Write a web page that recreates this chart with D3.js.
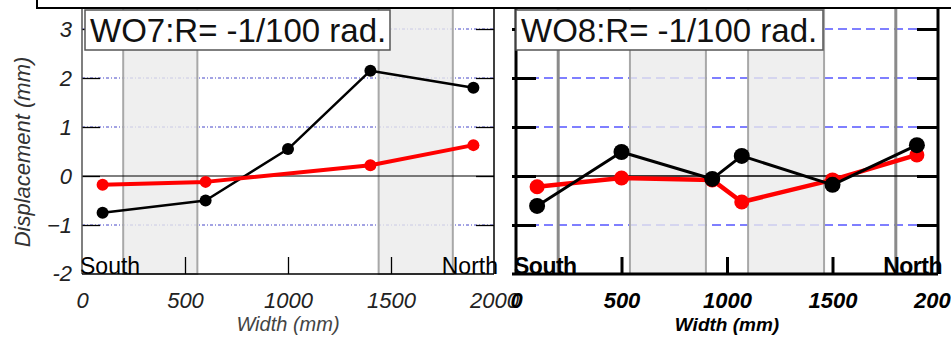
<!DOCTYPE html>
<html>
<head>
<meta charset="utf-8">
<script src="https://cdn.jsdelivr.net/npm/d3@7"></script>
<style>
  body { margin: 0; background: #fff; }
  svg { display: block; }
</style>
</head>
<body>
<div id="chart"></div>
<script>
// ---- data ----
const xTicks = [0, 500, 1000, 1500, 2000]
const yTicks = [-2, -1, 0, 1, 2, 3]
const gridValues = [-1, 1, 2, 3]

// WO7 panel
const wo7Title = 'WO7:R= -1/100 rad.'
const wo7BlackWidth = [100, 600, 1000, 1400, 1900]
const wo7Black = [-0.75, -0.5, 0.55, 2.15, 1.8]
const wo7RedWidth = [100, 600, 1400, 1900]
const wo7Red = [-0.18, -0.12, 0.22, 0.63]
const wo7Bands = [[200, 560], [1440, 1800]]
const wo7Lines = []

// WO8 panel
const wo8Title = 'WO8:R= -1/100 rad.'
const wo8BlackWidth = [100, 500, 930, 1070, 1500, 1900]
const wo8Black = [-0.61, 0.49, -0.06, 0.41, -0.18, 0.63]
const wo8RedWidth = [100, 500, 930, 1070, 1500, 1900]
const wo8Red = [-0.22, -0.04, -0.08, -0.53, -0.08, 0.43]
const wo8Bands = [[540, 900], [1100, 1460]]
const wo8Lines = [200, 1800]

const W = 951, H = 339
const FONT = '"Liberation Sans", Arial, sans-serif'

const svg = d3.select('#chart').append('svg')
  .attr('width', W).attr('height', H)
  .attr('viewBox', `0 0 ${W} ${H}`)

svg.append('rect').attr('width', W).attr('height', H).attr('fill', '#fff')

function drawPanel(p) {
  const x = d3.scaleLinear().domain([0, 2000]).range(p.xRange)
  const y = d3.scaleLinear().domain([-2, 3]).range([274, 29])
  const top = 8
  const bottom = y(-2)
  const g = svg.append('g')

  // gridlines
  g.append('g').selectAll('line').data(gridValues).join('line')
    .attr('x1', p.xRange[0]).attr('x2', p.xRange[1])
    .attr('y1', d => y(d)).attr('y2', d => y(d))
    .attr('stroke', p.gridColor).attr('stroke-width', p.gridWidth)
    .attr('stroke-dasharray', p.gridDash)

  // shaded bands
  g.append('g').selectAll('rect').data(p.bands).join('rect')
    .attr('x', d => x(d[0])).attr('width', d => x(d[1]) - x(d[0]))
    .attr('y', top).attr('height', bottom - top)
    .attr('fill', '#ebebeb').attr('fill-opacity', 0.8)
    .attr('stroke', '#a8a8a8').attr('stroke-width', 2)

  // grey vertical markers
  g.append('g').selectAll('line').data(p.lines).join('line')
    .attr('x1', d => x(d)).attr('x2', d => x(d))
    .attr('y1', top).attr('y2', bottom)
    .attr('stroke', '#8a8a8a').attr('stroke-width', 3)

  // zero line
  g.append('line')
    .attr('x1', p.xRange[0]).attr('x2', p.xRange[1])
    .attr('y1', y(0)).attr('y2', y(0))
    .attr('stroke', '#000').attr('stroke-width', p.bold ? 1.5 : 1)

  // series
  const line = d3.line().x(d => x(d[0])).y(d => y(d[1]))
  p.series.forEach(s => {
    const pts = s.widths.map((w, i) => [w, s.values[i]])
    g.append('path').datum(pts)
      .attr('d', line).attr('fill', 'none')
      .attr('stroke', s.color).attr('stroke-width', s.width)
      .attr('stroke-linejoin', 'round')
    g.append('g').selectAll('circle').data(pts).join('circle')
      .attr('cx', d => x(d[0])).attr('cy', d => y(d[1]))
      .attr('r', s.r).attr('fill', s.color)
  })

  // axes
  const sw = p.bold ? 3 : 1.3
  const styleAxis = sel => {
    sel.select('.domain').remove()
    sel.selectAll('.tick line').attr('stroke', '#000').attr('stroke-width', sw)
    sel.selectAll('.tick text')
      .attr('fill', p.bold ? '#000' : '#222')
      .attr('font-family', FONT).attr('font-size', '22px')
      .attr('font-style', 'italic')
      .attr('font-weight', p.bold ? 'bold' : 'normal')
  }

  g.append('g').attr('transform', `translate(0,${bottom})`)
    .call(d3.axisBottom(x).tickValues(xTicks).tickFormat(d3.format('d'))
      .tickSizeInner(-17).tickSizeOuter(0).tickPadding(18))
    .call(styleAxis)
    .call(a => a.selectAll('.tick').filter(d => d === 0 || d === 2000).select('line').remove())

  g.append('g').attr('transform', `translate(${p.xRange[0]},0)`)
    .call(d3.axisLeft(y).tickValues(yTicks.filter(v => v > -2)).tickSizeInner(p.bold ? -20 : -18)
      .tickSizeOuter(0).tickPadding(10).tickFormat(p.yLabels ? d3.format('d') : () => ''))
    .call(styleAxis)
    .call(a => { if (p.bold) a.selectAll('.tick line').attr('x1', -4) })

  if (p.yLabels) {
    g.append('text')
      .attr('x', p.xRange[0] - 10).attr('y', y(-2)).attr('dy', '0.32em')
      .attr('text-anchor', 'end')
      .attr('fill', '#222').attr('font-family', FONT).attr('font-size', '22px')
      .attr('font-style', 'italic').text('-2')
  }

  g.append('g').attr('transform', `translate(${p.xRange[1]},0)`)
    .call(d3.axisRight(y).tickValues(yTicks.filter(v => v > -2)).tickSizeInner(p.bold ? -21 : -18)
      .tickSizeOuter(0).tickFormat(() => ''))
    .call(styleAxis)

  // frame
  g.append('line')
    .attr('x1', p.xRange[0]).attr('x2', p.xRange[0])
    .attr('y1', top).attr('y2', bottom)
    .attr('stroke', p.bold ? '#000' : '#555').attr('stroke-width', p.bold ? 3 : 1.5)
  g.append('line')
    .attr('x1', p.xRange[1]).attr('x2', p.xRange[1])
    .attr('y1', top).attr('y2', bottom)
    .attr('stroke', '#000').attr('stroke-width', p.bold ? 3 : 1.5)
  g.append('line')
    .attr('x1', p.xRange[0] - (p.bold ? 4 : 0)).attr('x2', p.xRange[1])
    .attr('y1', bottom).attr('y2', bottom)
    .attr('stroke', '#000').attr('stroke-width', p.bold ? 3 : 1.5)

  // x title
  g.append('text')
    .attr('x', (p.xRange[0] + p.xRange[1]) / 2).attr('y', 331)
    .attr('text-anchor', 'middle')
    .attr('fill', p.bold ? '#000' : '#444')
    .attr('font-family', FONT).attr('font-size', p.bold ? '19px' : '20px')
    .attr('font-style', 'italic').attr('font-weight', p.bold ? 'bold' : 'normal')
    .text('Width (mm)')

  // South / North
  const sn = [['South', x(0) - 2, 'start'], ['North', x(2000) + 4, 'end']]
  g.append('g').selectAll('text').data(sn).join('text')
    .attr('x', d => d[1]).attr('y', bottom)
    .attr('text-anchor', d => d[2])
    .attr('fill', '#000').attr('font-family', FONT).attr('font-size', '23px')
    .attr('font-weight', p.bold ? 'bold' : 'normal')
    .attr('letter-spacing', p.bold ? '-0.5px' : '0')
    .text(d => d[0])

  // title box
  g.append('rect')
    .attr('x', p.xRange[0] + (p.bold ? 0 : 3)).attr('y', 10)
    .attr('width', p.boxWidth).attr('height', 40)
    .attr('fill', '#fff').attr('stroke', '#555').attr('stroke-width', 1.5)
  g.append('text')
    .attr('x', p.xRange[0] + (p.bold ? 5 : 8)).attr('y', 42)
    .attr('fill', '#111').attr('font-family', FONT).attr('font-size', '33px')
    .text(p.title)
}

drawPanel({
  xRange: [82, 494], title: wo7Title, boxWidth: 305, bold: false, yLabels: true,
  gridColor: '#4646c8', gridWidth: 1, gridDash: '3,2,1,2',
  bands: wo7Bands, lines: wo7Lines,
  series: [
    { widths: wo7BlackWidth, values: wo7Black, color: '#000', width: 2.5, r: 6 },
    { widths: wo7RedWidth, values: wo7Red, color: '#f00', width: 4, r: 6 }
  ]
})

drawPanel({
  xRange: [516, 938], title: wo8Title, boxWidth: 307, bold: true, yLabels: false,
  gridColor: '#5555ff', gridWidth: 1.5, gridDash: '9,5',
  bands: wo8Bands, lines: wo8Lines,
  series: [
    { widths: wo8RedWidth, values: wo8Red, color: '#f00', width: 4.5, r: 7.5 },
    { widths: wo8BlackWidth, values: wo8Black, color: '#000', width: 3, r: 8 }
  ]
})

// y title
svg.append('text')
  .attr('transform', 'translate(30,152) rotate(-90)')
  .attr('text-anchor', 'middle')
  .attr('fill', '#333').attr('font-family', FONT).attr('font-size', '22px')
  .attr('font-style', 'italic')
  .text('Displacement (mm)')

// clipped legend frame along top
svg.append('rect')
  .attr('x', 37).attr('y', -20).attr('width', 1000).attr('height', 28)
  .attr('fill', 'none').attr('stroke', '#000').attr('stroke-width', 2)
</script>
</body>
</html>
